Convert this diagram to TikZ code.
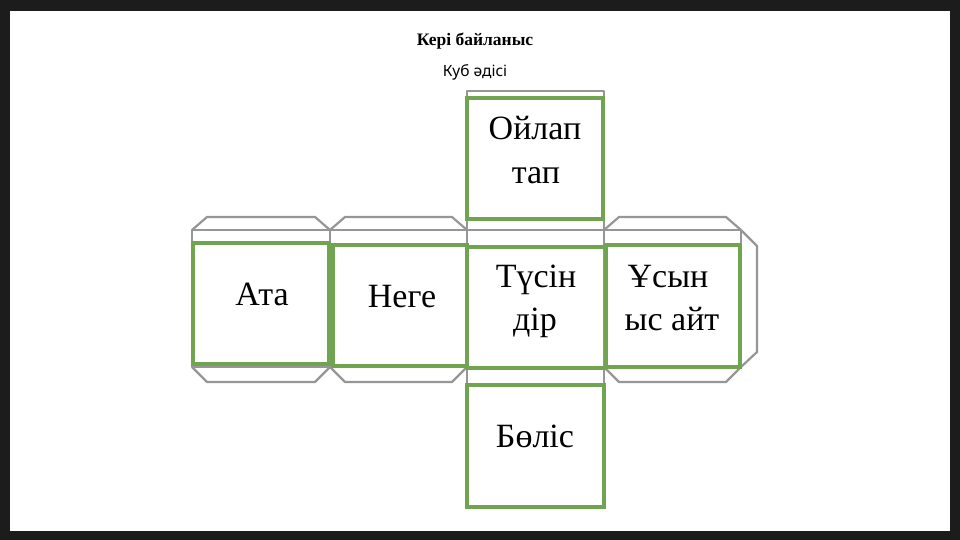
\documentclass[tikz,border=0pt]{standalone}
\usepackage{fontspec}
\setmainfont{Liberation Serif}
\newfontfamily\subfont{Noto Sans}
\usetikzlibrary{positioning}
\definecolor{netgray}{RGB}{150,150,150}
\definecolor{facegreen}{RGB}{112,164,80}
\definecolor{framedark}{RGB}{28,28,28}

\begin{document}
\begin{tikzpicture}[x=1pt, y=-1pt,
    net/.style={draw=netgray, line width=2.2pt, line join=round},
    face/.style={draw=facegreen, line width=3.4pt, rectangle, inner sep=0pt, minimum height=121pt},
    word/.style={font=\fontsize{34}{40}\selectfont, anchor=base, inner sep=0pt}]

    % frame of the slide
    \fill[framedark] (0,0) rectangle (960,540);
    \fill[white] (10,11) rectangle (950,531);

    \node[anchor=base, font=\bfseries\fontsize{17.5}{20}\selectfont] (title) at (475,46)
    { Кері байланыс };

    \node[anchor=base, font=\subfont\fontsize{15.5}{18}\selectfont] (subtitle) at (475,77)
    { Куб әдісі };

    % ---------------------------------------------------------
    % gray net of the cube
    \draw[net] (192,230) rectangle (741,367);
    \draw[net] (330,230) -- (330,367);
    \draw[net] (467,230) -- (467,367);
    \draw[net] (604,230) -- (604,367);
    \draw[net] (467,91) rectangle (604,230);
    \draw[net] (467,367) rectangle (604,506);

    \draw[net] (192,230) -- (207,217) -- (315,217) -- (330,230);
    \draw[net] (330,230) -- (345,217) -- (452,217) -- (467,230);
    \draw[net] (604,230) -- (619,217) -- (726,217) -- (741,230);

    \draw[net] (192,367) -- (207,382) -- (315,382) -- (330,367);
    \draw[net] (330,367) -- (345,382) -- (452,382) -- (467,367);
    \draw[net] (604,367) -- (619,382) -- (726,382) -- (741,367);

    \draw[net] (741,230) -- (757,246) -- (757,352) -- (741,367);

    % ---------------------------------------------------------
    % green faces
    \node[face, minimum width=136pt] (ata) at (261,303.5) {};
    \node[face, minimum width=134pt] (nege) at (400,305.5) {};
    \node[face, minimum width=136pt] (oilap) at (535,158.5) {};
    \node[face, minimum width=138pt] (tusin) at (536.5,307.5) {};
    \node[face, minimum width=134pt, minimum height=122pt] (usynys) at (673,306) {};
    \node[face, minimum width=137pt, minimum height=122pt] (bolis) at (535.5,446) {};

    % ---------------------------------------------------------
    % words on the faces
    \node[word] (ataA) at (262,305) { Ата };
    \node[word] (negeA) at (402,307) { Неге };
    \node[word] (oilapA) at (535,140) { Ойлап };
    \node[word] (oilapB) at (536,183) { тап };
    \node[word] (tusinA) at (536,287) { Түсін };
    \node[word] (tusinB) at (535,330) { дір };
    \node[word] (usynysA) at (668,287) { Ұсын };
    \node[word] (usynysB) at (672,330) { ыс айт };
    \node[word] (bolisA) at (535,447) { Бөліс };
\end{tikzpicture}
\end{document}
